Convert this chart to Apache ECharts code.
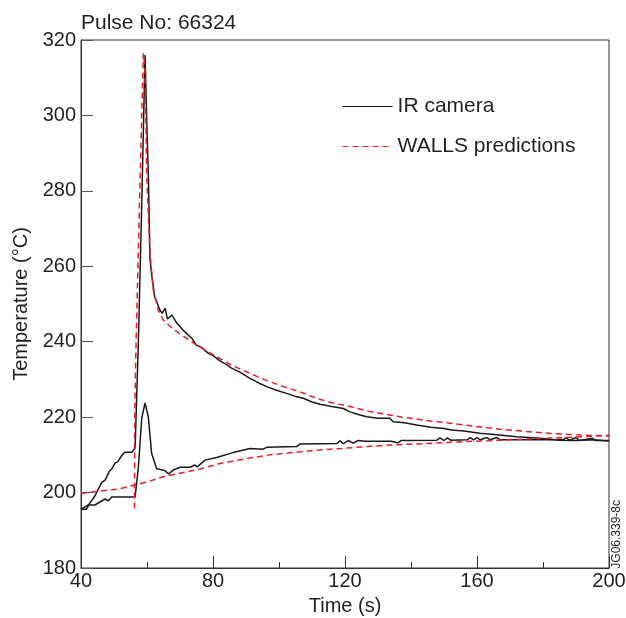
<!DOCTYPE html>
<html>
<head>
<meta charset="utf-8">
<script src="https://cdn.jsdelivr.net/npm/echarts@6/dist/echarts.min.js"></script>
<style>
  html, body { margin: 0; padding: 0; background: #fff; }
  #chart { width: 626px; height: 618px; }
</style>
</head>
<body>
<div id="chart"></div>
<script>
// IR camera, hot trace (spike)  [time s, temp °C]
var irHot = [[40,195.6],[41.7,195.6],[42.5,197],[44.2,199.1],[45,200.5],[46.3,202.7],[47.3,203.3],[48.5,205.5],
  [49.5,206.5],[50.3,207.8],[51.2,208.2],[52.3,209.8],[53.3,210.7],[55.4,210.7],[56.4,211.8],[57.4,240.4],
  [58.5,280],[59.4,316],[60.0,296],[60.4,284.7],[60.9,262],[61.4,258],[62.3,252],[63.9,248.4],[64.6,247.5],
  [65.5,248.9],[66.2,246],[67.5,247.1],[69,245],[71,243],[73.5,241],[75,239.1],[76.5,238.5],[78.6,236.9],
  [80,236.3],[82.1,234.9],[84,234],[85.6,233],[88,232],[91.2,230.3],[94,229],[96.3,228.1],[99,227.2],
  [102.3,226.3],[105,225.5],[107.4,225],[110,224],[112.4,223.4],[116,222.8],[119.5,222.3],[121.5,221.4],
  [124,220.7],[126.6,220.1],[130,219.7],[133.6,219.7],[134.6,218.8],[138,218.5],[141.7,217.9],[146,217.3],
  [150,217],[152.3,216.6],[156,216.3],[160.9,215.7],[166,215.3],[172,214.8],[178,214.5],[185.2,213.9],
  [190,213.8],[195,214],[200,213.7]];
// IR camera, second trace (small bump, slow rise)
var irCool = [[40,195.6],[42.2,196.7],[44.2,196.7],[47.3,198.3],[48.3,197.8],[49.3,198.8],[56.4,198.8],
  [57.4,206.9],[58.4,219.7],[59.4,223.8],[60.4,220.1],[61.4,210.4],[62.9,206.4],[65.5,205.8],[66.5,204.9],
  [68,206],[70,206.7],[73,206.7],[74.5,207.3],[75.2,206.8],[77.6,208.6],[81.1,209.3],[86.1,210.6],
  [91.2,211.7],[95.2,211.5],[96.3,212],[105.4,212.2],[106.4,212.9],[117.5,213],[118.5,213.7],[119.5,213],
  [121,213.8],[122.5,213.1],[124,213.8],[126,213.6],[134,213.6],[136,213.2],[137,213.8],[147.8,213.9],
  [148.8,214.5],[150,213.8],[151,214.5],[152,213.9],[157,214],[158,214.6],[159,214],[160,214.6],[161,214],
  [163,214.6],[164,214],[166,214.6],[167,214],[186,214],[187,214.6],[188,213.8],[190,214.6],[191,213.8],
  [195,214.4],[196,213.8],[200,213.8]];
// WALLS predictions
var wallsHot = [[56.2,195.8],[56.3,222],[56.7,240.4],[57.7,275.8],[58.9,316.5],[59.4,312],[59.9,284.7],
  [60.9,263.4],[61.9,253.7],[63.4,248.4],[64.9,245.8],[66.5,244.5],[68,243.3],[71,241.5],[75,239.1],
  [81.1,236],[86,233.6],[91.2,231.6],[96,229.8],[101.3,228.1],[106.4,226.7],[111.4,225],[116,223.8],
  [121.5,222.8],[128,221.4],[136.7,220.1],[144,219.2],[151.8,218.4],[159,217.6],[167,216.8],[175,216.2],
  [182.1,215.7],[190,215.3],[200,215]];
var wallsCool = [[40,199.8],[45,200.3],[51.8,201],[56.2,202],[60,202.8],[64.9,204.2],[67,204.6],[75,206],
  [82.1,207.7],[85.2,208.2],[90,209],[97.3,210],[106.4,210.8],[112.4,211.3],[119,211.7],[126.6,212.2],
  [136,212.7],[146.7,213.1],[156,213.5],[167,213.9],[177,214.3],[187.2,214.6],[200,215.2]];

var txt = '#231f20';
var font = 'Liberation Sans, Arial, Helvetica, sans-serif';

var myChart = echarts.init(document.getElementById('chart'));

function irLine(d) {
  return { name: 'IR camera', type: 'line', data: d, symbol: 'none', silent: true,
    lineStyle: { color: '#1a1a1a', width: 1.5 }, itemStyle: { color: '#1a1a1a' } };
}
function wallsLine(d) {
  return { name: 'WALLS predictions', type: 'line', data: d, symbol: 'none', silent: true,
    lineStyle: { color: '#ed1c24', width: 1.5, type: [6, 4] }, itemStyle: { color: '#ed1c24' } };
}

myChart.setOption({
  animation: false,
  textStyle: { fontFamily: font, color: txt },
  title: {
    text: 'Pulse No: 66324', left: 76, top: 8,
    textStyle: { fontSize: 21, fontWeight: 'normal', color: txt, fontFamily: font }
  },
  legend: {
    data: ['IR camera', 'WALLS predictions'],
    orient: 'vertical', left: 337, top: 91,
    itemWidth: 50, itemHeight: 14, itemGap: 19,
    itemStyle: { opacity: 0 },
    lineStyle: { width: 1.2 },
    textStyle: { fontSize: 21, color: txt, fontFamily: font }
  },
  grid: { left: 81, right: 17, top: 40, bottom: 50, show: true, borderColor: '#333', borderWidth: 1,
    containLabel: false, outerBoundsMode: 'none' },
  xAxis: {
    type: 'value', min: 40, max: 200, interval: 40,
    name: 'Time (s)', nameLocation: 'middle', nameGap: 28,
    nameTextStyle: { fontSize: 20, color: txt },
    axisLine: { lineStyle: { color: '#333' } },
    axisTick: { inside: true, length: 12, lineStyle: { color: '#333' } },
    minorTick: { show: true, splitNumber: 2, length: 6, lineStyle: { color: '#333' } },
    axisLabel: { fontSize: 20, color: txt, margin: 3 },
    splitLine: { show: false }
  },
  yAxis: {
    type: 'value', min: 180, max: 320, interval: 20,
    name: 'Temperature (°C)', nameLocation: 'middle', nameGap: 50,
    nameTextStyle: { fontSize: 20, color: txt },
    axisLine: { show: true, lineStyle: { color: '#333' } },
    axisTick: { show: true, inside: true, length: 12, lineStyle: { color: '#555' } },
    axisLabel: { fontSize: 20, color: txt, margin: 5 },
    splitLine: { show: false }
  },
  graphic: [{
    type: 'text', left: 611, top: 500, rotation: Math.PI / 2,
    style: { text: 'JG06.339-8c', fontSize: 12, fill: txt, fontFamily: font }
  }],
  series: [irLine(irHot), irLine(irCool), wallsLine(wallsHot), wallsLine(wallsCool)]
});
</script>
</body>
</html>
